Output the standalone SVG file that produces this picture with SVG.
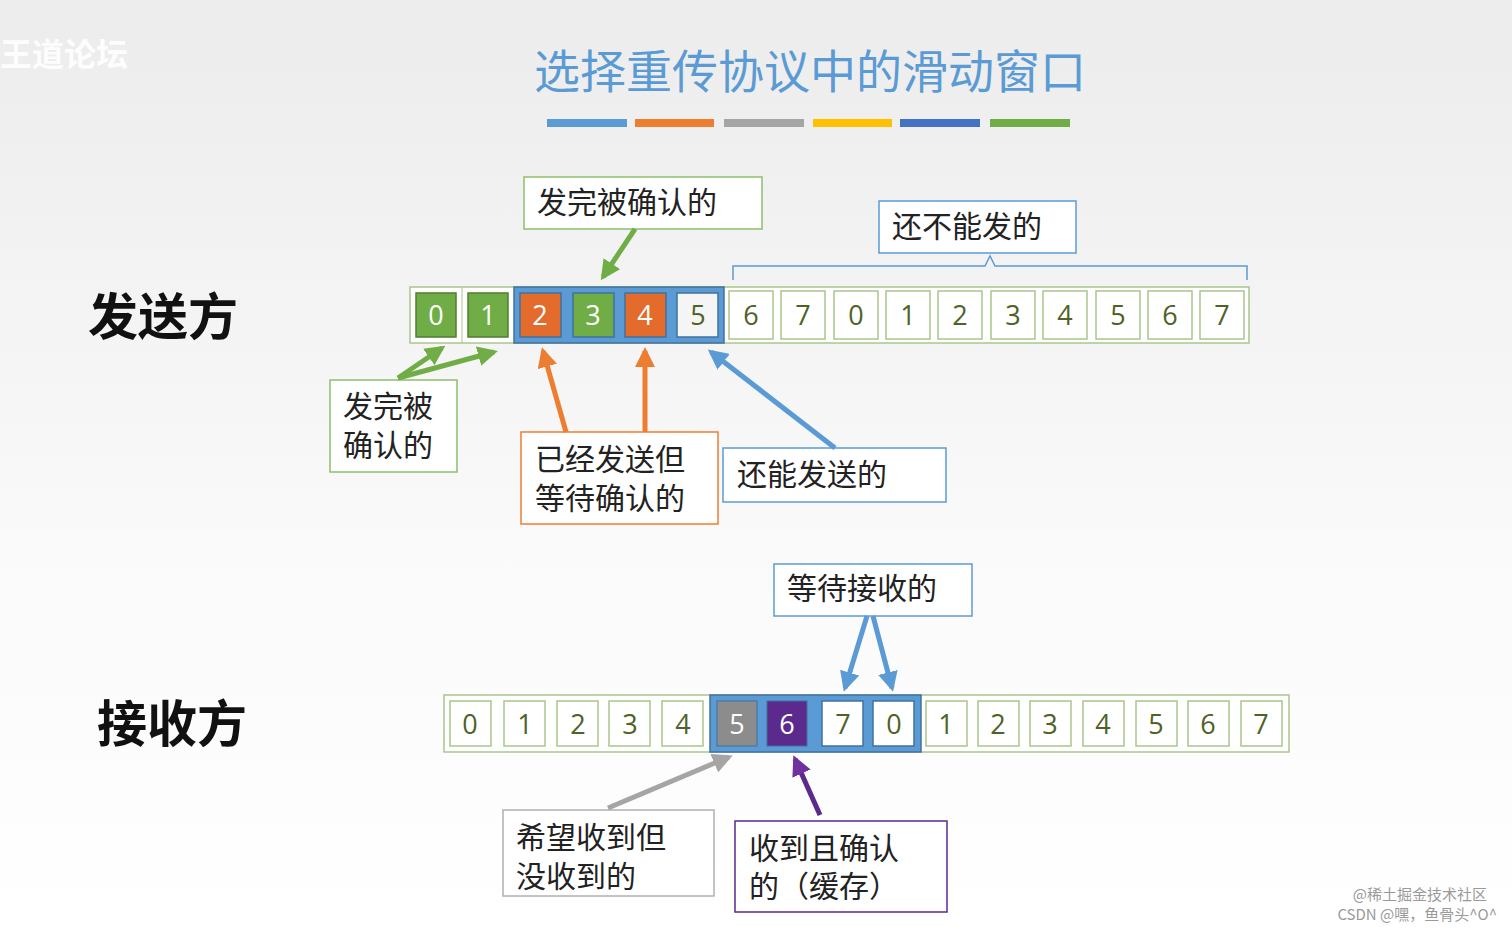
<svg xmlns="http://www.w3.org/2000/svg" width="1512" height="931" viewBox="0 0 1512 931">
<defs>
<linearGradient id="bg" x1="0" y1="0" x2="0" y2="1"><stop offset="0" stop-color="#ececec"/><stop offset="0.6" stop-color="#fafafa"/><stop offset="1" stop-color="#ffffff"/></linearGradient>
<marker id="mg" viewBox="0 0 10 10" refX="8" refY="5" markerWidth="4" markerHeight="4" orient="auto"><path d="M0,0L10,5L0,10z" fill="#70ad47"/></marker>
<marker id="mo" viewBox="0 0 10 10" refX="8" refY="5" markerWidth="4" markerHeight="4" orient="auto"><path d="M0,0L10,5L0,10z" fill="#ed7d31"/></marker>
<marker id="mb" viewBox="0 0 10 10" refX="8" refY="5" markerWidth="4" markerHeight="4" orient="auto"><path d="M0,0L10,5L0,10z" fill="#5b9bd5"/></marker>
<marker id="mgr" viewBox="0 0 10 10" refX="8" refY="5" markerWidth="4" markerHeight="4" orient="auto"><path d="M0,0L10,5L0,10z" fill="#a5a5a5"/></marker>
<marker id="mp" viewBox="0 0 10 10" refX="8" refY="5" markerWidth="4" markerHeight="4" orient="auto"><path d="M0,0L10,5L0,10z" fill="#7030a0"/></marker>
</defs>
<style>
.cell{fill:#fff;stroke:#a9c68c;stroke-width:1.5}
.in{fill:#fff;stroke:#a9c68c;stroke-width:1.5}
.num{font-family:"Open Sans","Liberation Sans",sans-serif;font-size:27px;fill:#4f6228;text-anchor:middle}
.lbl{font-family:"Noto Sans CJK SC",sans-serif;font-size:30px;fill:#222}
.big{font-family:"Noto Sans CJK SC",sans-serif;font-size:50px;font-weight:bold;fill:#111}
.box{fill:#fff;stroke-width:1.5}
.ar{stroke-width:5;fill:none}
</style>
<rect width="1512" height="931" fill="url(#bg)"/>
<text x="0" y="66" font-family="Noto Sans CJK SC,sans-serif" font-size="32" font-weight="bold" fill="#fff" opacity="0.9">王道论坛</text>
<text x="810" y="88" text-anchor="middle" font-family="Noto Sans CJK SC,sans-serif" font-size="46" fill="#5b9bd5">选择重传协议中的滑动窗口</text>
<g stroke-width="8">
<line x1="547" y1="123" x2="627" y2="123" stroke="#5b9bd5"/><line x1="635" y1="123" x2="714" y2="123" stroke="#ed7d31"/><line x1="724" y1="123" x2="804" y2="123" stroke="#a5a5a5"/><line x1="813" y1="123" x2="892" y2="123" stroke="#ffc000"/><line x1="900" y1="123" x2="980" y2="123" stroke="#4472c4"/><line x1="990" y1="123" x2="1070" y2="123" stroke="#70ad47"/>
</g>
<text class="big" x="88" y="335">发送方</text>
<text class="big" x="97" y="742">接收方</text>
<g id="sender">
<rect x="410" y="287" width="839" height="56" fill="#fff" stroke="#a9c68c" stroke-width="1.5"/>
<rect x="514" y="287" width="210" height="56" fill="#5b9bd5" stroke="#41719c" stroke-width="1.5"/>
<line x1="462" y1="287" x2="462" y2="343" stroke="#a9c68c"/>
<rect class="in" x="416" y="293" width="40" height="44" style="fill:#70ad47;stroke:#507e32"/><text class="num" x="436" y="325" style="fill:#fff">0</text>
<rect class="in" x="468" y="293" width="40" height="44" style="fill:#70ad47;stroke:#507e32"/><text class="num" x="488" y="325" style="fill:#fff">1</text>
<rect class="in" x="520" y="293" width="41" height="44" style="fill:#e36c2d;stroke:#41719c"/><text class="num" x="540" y="325" style="fill:#fff">2</text>
<rect class="in" x="573" y="293" width="41" height="44" style="fill:#70ad47;stroke:#41719c"/><text class="num" x="593" y="325" style="fill:#fff">3</text>
<rect class="in" x="625" y="293" width="41" height="44" style="fill:#e36c2d;stroke:#41719c"/><text class="num" x="645" y="325" style="fill:#fff">4</text>
<rect class="in" x="677" y="293" width="41" height="44" style="fill:#f5f5f5;stroke:#41719c"/><text class="num" x="698" y="325">5</text>
<rect class="cell" x="729" y="291" width="44" height="48"/><text class="num" x="751" y="325">6</text>
<rect class="cell" x="781" y="291" width="44" height="48"/><text class="num" x="803" y="325">7</text>
<rect class="cell" x="834" y="291" width="44" height="48"/><text class="num" x="856" y="325">0</text>
<rect class="cell" x="886" y="291" width="44" height="48"/><text class="num" x="908" y="325">1</text>
<rect class="cell" x="938" y="291" width="44" height="48"/><text class="num" x="960" y="325">2</text>
<rect class="cell" x="991" y="291" width="44" height="48"/><text class="num" x="1013" y="325">3</text>
<rect class="cell" x="1043" y="291" width="44" height="48"/><text class="num" x="1065" y="325">4</text>
<rect class="cell" x="1096" y="291" width="44" height="48"/><text class="num" x="1118" y="325">5</text>
<rect class="cell" x="1148" y="291" width="44" height="48"/><text class="num" x="1170" y="325">6</text>
<rect class="cell" x="1200" y="291" width="44" height="48"/><text class="num" x="1222" y="325">7</text>
</g>
<g id="receiver">
<rect x="444" y="695" width="845" height="57" fill="#fff" stroke="#a9c68c" stroke-width="1.5"/>
<rect x="710" y="695" width="211" height="57" fill="#5b9bd5" stroke="#41719c" stroke-width="1.5"/>
<rect class="cell" x="450" y="701" width="41" height="45"/><text class="num" x="470" y="734">0</text>
<rect class="cell" x="504" y="701" width="41" height="45"/><text class="num" x="525" y="734">1</text>
<rect class="cell" x="557" y="701" width="41" height="45"/><text class="num" x="578" y="734">2</text>
<rect class="cell" x="609" y="701" width="41" height="45"/><text class="num" x="630" y="734">3</text>
<rect class="cell" x="662" y="701" width="41" height="45"/><text class="num" x="683" y="734">4</text>
<rect x="717" y="701" width="40" height="45" fill="#8c8c8c" stroke="#41719c"/><text class="num" x="737" y="734" style="fill:#fff">5</text>
<rect x="767" y="701" width="40" height="45" fill="#5b2a8c" stroke="#41719c"/><text class="num" x="787" y="734" style="fill:#fff">6</text>
<rect class="cell" x="822" y="701" width="41" height="45" style="stroke:#41719c"/><text class="num" x="843" y="734">7</text>
<rect class="cell" x="873" y="701" width="41" height="45" style="stroke:#41719c"/><text class="num" x="894" y="734">0</text>
<rect class="cell" x="926" y="701" width="41" height="45"/><text class="num" x="946" y="734">1</text>
<rect class="cell" x="978" y="701" width="41" height="45"/><text class="num" x="998" y="734">2</text>
<rect class="cell" x="1030" y="701" width="41" height="45"/><text class="num" x="1050" y="734">3</text>
<rect class="cell" x="1083" y="701" width="41" height="45"/><text class="num" x="1103" y="734">4</text>
<rect class="cell" x="1136" y="701" width="41" height="45"/><text class="num" x="1156" y="734">5</text>
<rect class="cell" x="1188" y="701" width="41" height="45"/><text class="num" x="1208" y="734">6</text>
<rect class="cell" x="1241" y="701" width="41" height="45"/><text class="num" x="1261" y="734">7</text>
</g>
<g id="n1"><rect class="box" x="524" y="177" width="238" height="52" stroke="#8dbf6a"/><text class="lbl" x="537" y="213">发完被确认的</text></g>
<g id="n2"><rect class="box" x="879" y="201" width="197" height="52" stroke="#5b9bd5"/><text class="lbl" x="892" y="237">还不能发的</text></g>
<g id="n3"><rect class="box" x="330" y="380" width="127" height="92" stroke="#8dbf6a"/><text class="lbl" x="343" y="417">发完被</text><text class="lbl" x="343" y="456">确认的</text></g>
<g id="n4"><rect class="box" x="521" y="432" width="197" height="92" stroke="#ed7d31"/><text class="lbl" x="535" y="470">已经发送但</text><text class="lbl" x="535" y="509">等待确认的</text></g>
<g id="n5"><rect class="box" x="723" y="448" width="223" height="54" stroke="#5b9bd5"/><text class="lbl" x="737" y="485">还能发送的</text></g>
<g id="n6"><rect class="box" x="774" y="564" width="198" height="52" stroke="#5b9bd5"/><text class="lbl" x="787" y="599">等待接收的</text></g>
<g id="n7"><rect class="box" x="503" y="810" width="211" height="86" stroke="#b0b0b0"/><text class="lbl" x="516" y="848">希望收到但</text><text class="lbl" x="516" y="887">没收到的</text></g>
<g id="n8"><rect class="box" x="735" y="821" width="212" height="91" stroke="#5b2a8c"/><text class="lbl" x="749" y="859">收到且确认</text><text class="lbl" x="749" y="897">的（缓存）</text></g>
<g id="connectors">
<path d="M733,280 L733,266 L985,266 L990,256 L995,266 L1247,266 L1247,280" fill="none" stroke="#5b9bd5" stroke-width="1.5"/>
<line class="ar" x1="635" y1="229" x2="603" y2="277" stroke="#70ad47" marker-end="url(#mg)"/>
<line class="ar" x1="398" y1="378" x2="442" y2="348" stroke="#70ad47" marker-end="url(#mg)"/>
<line class="ar" x1="398" y1="378" x2="494" y2="352" stroke="#70ad47" marker-end="url(#mg)"/>
<line class="ar" x1="566" y1="432" x2="543" y2="351" stroke="#ed7d31" marker-end="url(#mo)"/>
<line class="ar" x1="645" y1="432" x2="645" y2="351" stroke="#ed7d31" marker-end="url(#mo)"/>
<line class="ar" x1="835" y1="448" x2="711" y2="352" stroke="#5b9bd5" marker-end="url(#mb)"/>
<line class="ar" x1="867" y1="616" x2="845" y2="688" stroke="#5b9bd5" marker-end="url(#mb)"/>
<line class="ar" x1="873" y1="616" x2="892" y2="688" stroke="#5b9bd5" marker-end="url(#mb)"/>
<line class="ar" x1="608" y1="808" x2="729" y2="757" stroke="#a5a5a5" marker-end="url(#mgr)"/>
<line class="ar" x1="820" y1="815" x2="795" y2="759" stroke="#5b2a8c" marker-end="url(#mp)"/>
</g>
<text x="1487" y="900" text-anchor="end" font-family="Noto Sans CJK SC,sans-serif" font-size="15" fill="#9a9a9a">@稀土掘金技术社区</text>
<text x="1497" y="920" text-anchor="end" font-family="Noto Sans CJK SC,sans-serif" font-size="15" fill="#9a9a9a">CSDN @嘿，鱼骨头^O^</text>
</svg>
